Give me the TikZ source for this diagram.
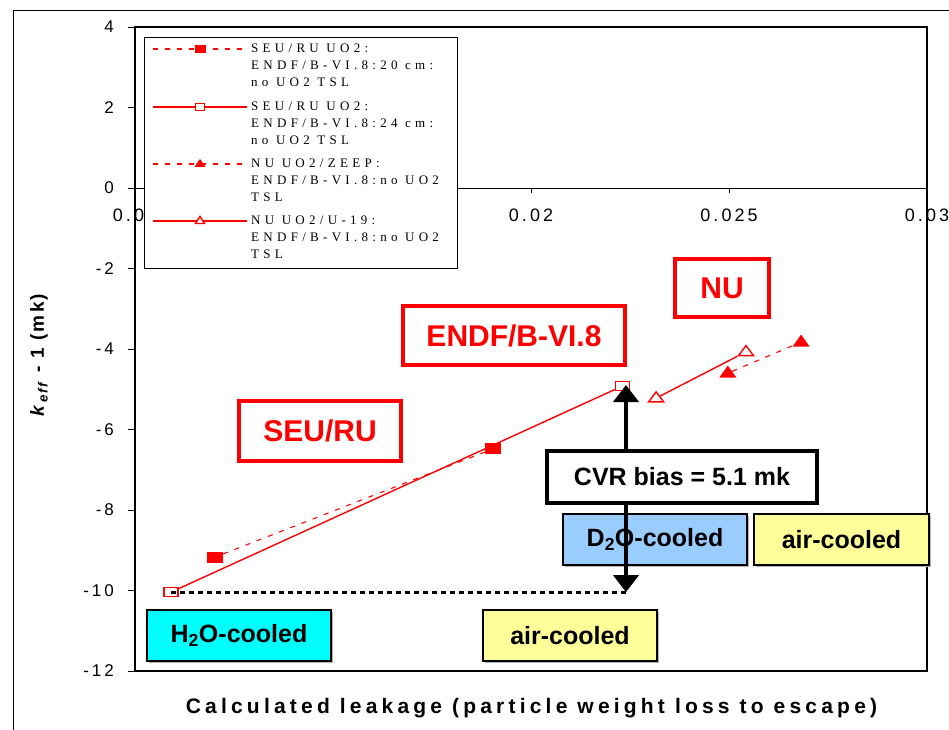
\documentclass[tikz,border=0pt]{standalone}
\usepackage{fontspec}
\setmainfont{Liberation Sans}
\newfontfamily\legendfont{Liberation Serif}[LetterSpace=33]
\newfontfamily\tickfont{Liberation Sans}[LetterSpace=17]
\newfontfamily\titlefont{Liberation Sans}[LetterSpace=20]
\newfontfamily\ytitlefont{Liberation Sans}[LetterSpace=12]
\usetikzlibrary{positioning,arrows.meta,shapes.geometric,shadows}

\definecolor{plotred}{RGB}{255,0,0}
\definecolor{htwocyan}{RGB}{0,255,255}
\definecolor{dtwoblue}{RGB}{153,204,255}
\definecolor{airyellow}{RGB}{255,255,153}

\tikzset{
  ylab/.style={anchor=east, inner sep=0pt, font=\tickfont\fontsize{17}{20}\selectfont},
  xlab/.style={inner sep=0pt, font=\tickfont\fontsize{18}{20}\selectfont},
  legtext/.style={anchor=north west, align=left, inner sep=0pt, font=\legendfont\fontsize{13}{17}\selectfont},
  redline/.style={draw=plotred, line width=1.4pt},
  reddash/.style={draw=plotred, line width=1.1pt, dash pattern=on 5pt off 7pt},
  fsq/.style={rectangle, fill=plotred, inner sep=0pt, minimum width=16pt, minimum height=11pt},
  osq/.style={rectangle, draw=plotred, fill=white, line width=1.4pt, inner sep=0pt, minimum width=14pt, minimum height=9pt},
  ftri/.style={isosceles triangle, isosceles triangle stretches, shape border rotate=90, fill=plotred, inner sep=0pt, minimum width=17pt, minimum height=12pt},
  otri/.style={ftri, fill=white, draw=plotred, line width=1.4pt, minimum width=15pt, minimum height=10pt},
  redbox/.style={draw=plotred, line width=4pt, text=plotred, inner sep=0pt, font=\fontsize{30}{36}\selectfont\bfseries},
  coolbox/.style={draw=black, line width=2pt, inner sep=0pt, minimum height=51pt, font=\fontsize{25}{30}\selectfont\bfseries, drop shadow={shadow xshift=2pt, shadow yshift=-2pt, fill=gray!60, opacity=1}},
  biasarrow/.style={line width=4pt, {Triangle[width=25pt,length=17pt]}-{Triangle[width=25pt,length=17pt]}}
}

\begin{document}
\begin{tikzpicture}[x=1pt, y=-1pt]
\useasboundingbox (0,0) rectangle (949,729);
\fill[white] (0,0) rectangle (949,729);
% outer frame
\draw[line width=1pt] (13,740) -- (13,10) -- (960,10);

% plot area and zero line
\draw[line width=2pt] (135,27) rectangle (927,671);
\draw[line width=0.8pt] (135,188) -- (927,188);

% y ticks
\draw (128,27) -- (135,27) node[ylab] (y4) at (114,27) {4};
\draw (128,107.5) -- (135,107.5) node[ylab] (y2) at (114,107.5) {2};
\draw (128,188) -- (135,188) node[ylab] (y0) at (114,188) {0};
\draw (128,268.5) -- (135,268.5) node[ylab] (ym2) at (114,268.5) {-2};
\draw (128,349) -- (135,349) node[ylab] (ym4) at (114,349) {-4};
\draw (128,429.5) -- (135,429.5) node[ylab] (ym6) at (114,429.5) {-6};
\draw (128,510) -- (135,510) node[ylab] (ym8) at (114,510) {-8};
\draw (128,590.5) -- (135,590.5) node[ylab] (ym10) at (114,590.5) {-10};
\draw (128,671) -- (135,671) node[ylab] (ym12) at (114,671) {-12};

% x ticks (0.015 sits under the legend)
\draw (135,188) -- (135,193) node[xlab] (x010) at (135,215) {0.01};
\draw (333,188) -- (333,193);
\draw (531,188) -- (531,193) node[xlab] (x020) at (531,215) {0.02};
\draw (729,188) -- (729,193) node[xlab] (x025) at (729,215) {0.025};
\draw (927,188) -- (927,193) node[xlab] (x030) at (927,215) {0.03};

% axis titles
\node[rotate=90, font=\ytitlefont\fontsize{19}{22}\selectfont\bfseries] (ytitle) at (39,355) {\textit{k}\textsubscript{\textit{eff}} - 1 (mk)};
\node[font=\titlefont\fontsize{21}{24}\selectfont\bfseries] (xtitle) at (531.5,708.5) {Calculated leakage (particle weight loss to escape)};

% legend
\node[draw, fill=white, line width=0.8pt, inner sep=0pt, minimum width=313pt, minimum height=231pt] (legend) at (300.5,152.5) {};
\draw[reddash] (153,49) -- (247,49);
\node[fsq, minimum width=11pt, minimum height=8pt] (legA) at (200,49) {};
\node[legtext] (legAtxt) at (251,44) {SEU/RU UO2:\\ENDF/B-VI.8:20 cm:\\no UO2 TSL};
\draw[redline] (153,107) -- (247,107);
\node[osq, minimum width=9pt, minimum height=7pt] (legB) at (200,107) {};
\node[legtext] (legBtxt) at (251,102) {SEU/RU UO2:\\ENDF/B-VI.8:24 cm:\\no UO2 TSL};
\draw[reddash] (153,164) -- (247,164);
\node[ftri, minimum width=11pt, minimum height=8pt] (legC) at (200,164) {};
\node[legtext] (legCtxt) at (251,159) {NU UO2/ZEEP:\\ENDF/B-VI.8:no UO2\\TSL};
\draw[redline] (153,221) -- (247,221);
\node[otri, minimum width=9pt, minimum height=7pt] (legD) at (200,221) {};
\node[legtext] (legDtxt) at (251,216) {NU UO2/U-19:\\ENDF/B-VI.8:no UO2\\TSL};

% data points
\begin{scope}[shift={(-261,188)}, x=39.6pt, y=40.25pt]
  \node[osq] (sq24a) at (10.91,-10.04) {};
  \node[osq] (sq24b) at (22.31,-4.92) {};
  \node[fsq] (sq20a) at (12.02,-9.17) {};
  \node[fsq] (sq20b) at (19.04,-6.48) {};
  \node[otri] (u19a) at (23.16,-5.22) {};
  \node[otri] (u19b) at (25.43,-4.07) {};
  \node[ftri] (zeepa) at (24.97,-4.60) {};
  \node[ftri] (zeepb) at (26.82,-3.83) {};
\end{scope}
\draw[redline] (sq24a) -- (sq24b);
\draw[reddash] (sq20a) -- (sq20b);
\draw[redline] (u19a) -- (u19b);
\draw[reddash] (zeepa) -- (zeepb);

% bias
\coordinate (biastop) at (626,385);
\coordinate (biasbot) at (biastop |- sq24a);
\draw[line width=3pt, dash pattern=on 4.5pt off 4.5pt] (sq24a.center) -- (biasbot);

% labels
\node[redbox, minimum width=162pt, minimum height=60pt] (seuru) at (320,431) {SEU/RU};
\node[redbox, minimum width=222pt, minimum height=59pt] (endf) at (514,335.5) {ENDF/B-VI.8};
\node[redbox, minimum width=94pt, minimum height=58pt] (nu) at (722,288) {NU};

\node[coolbox, fill=htwocyan, minimum width=184pt] (htwo) at (239,635.5) {H\textsubscript{2}O-cooled};
\node[coolbox, fill=airyellow, minimum width=174pt] (airlow) at (570,635.5) {air-cooled};
\node[coolbox, fill=dtwoblue, minimum width=184pt] (dtwo) at (655,539.5) {D\textsubscript{2}O-cooled};
\node[coolbox, fill=airyellow, minimum width=175pt, right=5pt of dtwo] (airhigh) {air-cooled};

\draw[biasarrow] (biasbot) -- (biastop);
\node[draw, fill=white, line width=4pt, inner sep=0pt, minimum width=270pt, minimum height=52pt, font=\fontsize{25}{30}\selectfont\bfseries] (cvr) at (682,477) {CVR bias = 5.1 mk};
\end{tikzpicture}
\end{document}
